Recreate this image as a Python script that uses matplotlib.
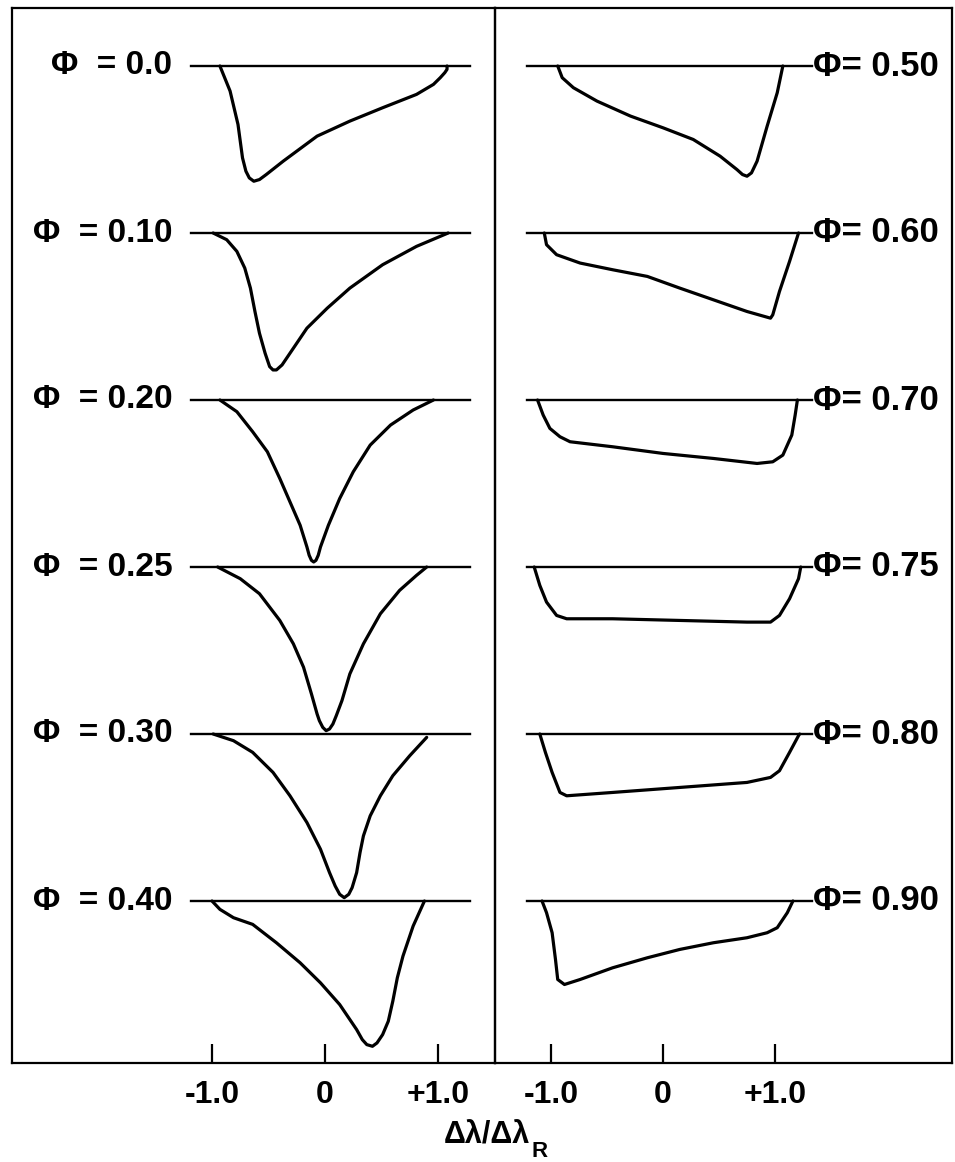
import numpy as np
import matplotlib.pyplot as plt

plt.rcParams['font.family'] = ['Liberation Sans Narrow', 'Liberation Sans', 'DejaVu Sans']

# line profiles: x = delta lambda / delta lambda_R, d = depth below continuum (in row spacings)
left_phases = ['0.0', '0.10', '0.20', '0.25', '0.30', '0.40']
left_x = [
    [-0.93, -0.84, -0.77, -0.73, -0.70, -0.67, -0.63, -0.58, -0.52, -0.37, -0.07, 0.22, 0.51, 0.81, 0.96, 1.02, 1.06, 1.08, 1.08],
    [-0.99, -0.87, -0.78, -0.71, -0.66, -0.62, -0.58, -0.53, -0.49, -0.46, -0.43, -0.38, -0.28, -0.16, 0.02, 0.22, 0.51, 0.81, 1.02, 1.09],
    [-0.93, -0.78, -0.64, -0.51, -0.40, -0.31, -0.22, -0.16, -0.14, -0.12, -0.10, -0.08, -0.06, -0.04, 0.03, 0.13, 0.25, 0.40, 0.58, 0.78, 0.96],
    [-0.95, -0.75, -0.58, -0.40, -0.28, -0.19, -0.12, -0.07, -0.05, -0.02, 0.01, 0.04, 0.07, 0.10, 0.15, 0.22, 0.34, 0.49, 0.66, 0.81, 0.90],
    [-0.99, -0.81, -0.64, -0.46, -0.31, -0.16, -0.04, 0.04, 0.09, 0.13, 0.17, 0.21, 0.24, 0.28, 0.31, 0.34, 0.40, 0.49, 0.60, 0.75, 0.90],
    [-1.00, -0.93, -0.81, -0.64, -0.43, -0.22, -0.04, 0.13, 0.28, 0.33, 0.37, 0.42, 0.46, 0.51, 0.56, 0.60, 0.64, 0.69, 0.78, 0.88],
]
left_d = [
    [0, .15, .35, .55, .63, .67, .69, .68, .65, .57, .42, .33, .25, .17, .11, .07, .04, .02, 0],
    [0, .04, .11, .21, .33, .47, .60, .72, .80, .82, .82, .79, .69, .57, .45, .33, .19, .08, .02, 0],
    [0, .07, .19, .31, .47, .61, .75, .88, .93, .96, .97, .96, .93, .88, .75, .59, .43, .27, .15, .06, 0],
    [0, .07, .16, .32, .46, .60, .76, .88, .92, .96, .98, .97, .94, .89, .80, .64, .46, .28, .14, .05, 0],
    [0, .04, .11, .23, .37, .53, .69, .83, .91, .96, .98, .96, .92, .83, .71, .61, .49, .37, .25, .13, .02],
    [0, .05, .10, .14, .25, .37, .49, .62, .77, .83, .86, .87, .85, .80, .72, .60, .46, .33, .15, 0],
]

right_phases = ['0.50', '0.60', '0.70', '0.75', '0.80', '0.90']
right_x = [
    [-0.94, -0.90, -0.80, -0.59, -0.29, 0.00, 0.27, 0.51, 0.66, 0.71, 0.75, 0.79, 0.84, 0.93, 1.02, 1.07],
    [-1.06, -1.04, -0.95, -0.74, -0.45, -0.14, 0.15, 0.45, 0.75, 0.96, 0.98, 1.04, 1.13, 1.21],
    [-1.12, -1.07, -1.01, -0.92, -0.83, -0.45, 0.00, 0.45, 0.84, 0.98, 1.07, 1.15, 1.18, 1.20],
    [-1.15, -1.10, -1.04, -0.95, -0.86, -0.45, 0.15, 0.75, 0.96, 1.04, 1.13, 1.21, 1.23],
    [-1.10, -1.05, -0.99, -0.92, -0.86, -0.45, 0.15, 0.75, 0.96, 1.04, 1.13, 1.21, 1.22],
    [-1.08, -1.04, -0.99, -0.96, -0.94, -0.88, -0.74, -0.45, -0.14, 0.15, 0.45, 0.75, 0.93, 1.02, 1.11, 1.16],
]
right_d = [
    [0, .07, .13, .21, .30, .37, .44, .54, .62, .65, .66, .64, .57, .36, .16, 0],
    [0, .07, .13, .18, .22, .26, .33, .40, .47, .51, .49, .35, .17, 0],
    [0, .09, .17, .22, .25, .28, .32, .35, .38, .37, .33, .21, .09, 0],
    [0, .11, .21, .29, .31, .31, .32, .33, .33, .29, .19, .07, 0],
    [0, .11, .23, .35, .37, .35, .32, .29, .26, .22, .11, .01, 0],
    [0, .07, .19, .35, .47, .50, .47, .40, .34, .29, .25, .22, .19, .16, .07, 0],
]

ticks = [-1.0, 0.0, 1.0]
tick_labels = ['-1.0', '0', '+1.0']

W, H = 955, 1162
fig = plt.figure(figsize=(W / 100, H / 100), dpi=100)


def px_axes(x0, x1, y0, y1):
    return fig.add_axes([x0 / W, 1 - y1 / H, (x1 - x0) / W, (y1 - y0) / H])


axL = px_axes(12, 495, 8, 1063)
axR = px_axes(495, 952, 8, 1063)
axR.patch.set_visible(False)
axL.set_xlim((12 - 325) / 113, (495 - 325) / 113)
axR.set_xlim((495 - 663) / 112, (952 - 663) / 112)
for ax in (axL, axR):
    ax.set_ylim(-(1063 - 66) / 167, (66 - 8) / 167)
    ax.set_yticks([])
    ax.set_xticks(ticks)
    ax.set_xticklabels(tick_labels, fontsize=23, fontweight='bold')
    ax.tick_params(axis='x', direction='in', length=14, width=1.6, pad=12)
    for s in ax.spines.values():
        s.set_linewidth(1.6)

lw = 2.3
for i, (ph, xs, ds) in enumerate(zip(left_phases, left_x, left_d)):
    axL.plot([-1.19, 1.28], [-i, -i], color='k', lw=1.7)
    axL.plot(xs, -i - np.array(ds), color='k', lw=lw, solid_joinstyle='round', solid_capstyle='round')
    axL.text(-1.35, -i, '\u03a6  = ' + ph, ha='right', va='center', fontsize=24, fontweight='bold')

for i, (ph, xs, ds) in enumerate(zip(right_phases, right_x, right_d)):
    axR.plot([-1.21, 1.33], [-i, -i], color='k', lw=1.7)
    axR.plot(xs, -i - np.array(ds), color='k', lw=lw, solid_joinstyle='round', solid_capstyle='round')
    axR.text(1.34, -i, '\u03a6= ' + ph, ha='left', va='center', fontsize=25, fontweight='bold')

lab = fig.text(487 / W, 1 - 1135 / H, '\u0394\u03bb/\u0394\u03bb', ha='center', va='center',
               fontsize=22, fontweight='bold')
axL.annotate('R', xy=(1, 0), xycoords=lab, xytext=(1, -1), textcoords='offset points',
             ha='left', va='center', fontsize=16, fontweight='bold', annotation_clip=False)

fig.savefig('out.png', dpi=100)
